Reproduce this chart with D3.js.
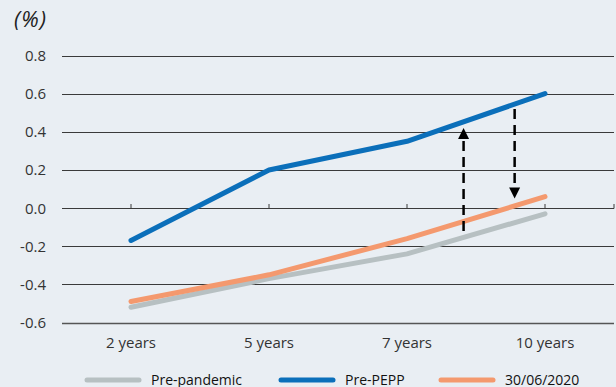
<!DOCTYPE html>
<html lang="en">

<head>
  <meta charset="UTF-8">
  <title>Yield curve</title>
  <script src="https://cdn.jsdelivr.net/npm/d3@7"></script>
  <style>
    html,
    body {
      margin: 0;
      padding: 0;
      background: #e9eef3;
    }

    svg {
      display: block;
      font-family: "Open Sans", sans-serif;
    }

    .ticklabel {
      fill: #333333;
      font-size: 15px;
    }

    .legendText {
      fill: #111111;
      font-size: 14px;
    }

    .unit {
      fill: #222222;
      font-size: 22px;
      font-style: italic;
      letter-spacing: 1px;
    }
  </style>
</head>

<body>
  <div class="chart"></div>

  <script type="text/javascript">
    // data
    const categories = ['2 years', '5 years', '7 years', '10 years'];
    const prePandemic = [-0.52, -0.37, -0.24, -0.03];
    const prePEPP = [-0.17, 0.2, 0.35, 0.6];
    const lastDate = [-0.49, -0.35, -0.16, 0.06];
    const yTicks = [-0.6, -0.4, -0.2, 0.0, 0.2, 0.4, 0.6, 0.8];
    const seriesNames = ['Pre-pandemic', 'Pre-PEPP', '30/06/2020'];
    const seriesColors = ['#b7c0c2', '#0b6fba', '#f4996e'];
    // arrows: position as category index, from value, to value (tip)
    const arrowPos = [2.41, 2.78];
    const arrowFrom = [-0.12, 0.52];
    const arrowTo = [0.42, 0.05];

    const width = 616;
    const height = 387;

    const svg = d3
      .select('.chart')
      .append('svg')
      .attr('width', width)
      .attr('height', height);

    // index scale, half a step of padding on each side
    const x = d3.scaleLinear()
      .domain([-0.5, categories.length - 0.5])
      .range([62, 614]);

    const y = d3.scaleLinear()
      .domain([-0.6, 0.8])
      .range([322.5, 55.5]);

    //gridlines
    svg.selectAll('.grid')
      .data(yTicks)
      .enter()
      .append('line')
      .attr('class', 'grid')
      .attr('x1', x(-0.5))
      .attr('x2', x(categories.length - 0.5))
      .attr('y1', d => Math.round(y(d)) + 0.5)
      .attr('y2', d => Math.round(y(d)) + 0.5)
      .attr('stroke', d => d === -0.6 ? '#555555' : '#3a3a3a')
      .attr('stroke-width', d => d === -0.6 ? 1.6 : 1);

    // y tick labels
    svg.selectAll('.ylab')
      .data(yTicks)
      .enter()
      .append('text')
      .attr('class', 'ticklabel')
      .attr('x', 46)
      .attr('y', d => y(d) + 5.5)
      .style('text-anchor', 'end')
      .text(d => d3.format('.1f')(d).replace('\u2212', '-'));

    // small ticks on the zero line
    const tickIdx = d3.range(categories.length).concat([categories.length - 0.5]);
    svg.selectAll('.xtick')
      .data(tickIdx)
      .enter()
      .append('line')
      .attr('class', 'xtick')
      .attr('x1', d => x(d))
      .attr('x2', d => x(d))
      .attr('y1', Math.round(y(0)) + 0.5)
      .attr('y2', Math.round(y(0)) - 4)
      .attr('stroke', '#3a3a3a')
      .attr('stroke-width', 1);

    // category labels
    svg.selectAll('.xlab')
      .data(categories)
      .enter()
      .append('text')
      .attr('class', 'ticklabel')
      .attr('x', (d, i) => x(i))
      .attr('y', 347.5)
      .style('text-anchor', 'middle')
      .text(d => d);

    svg.append('text')
      .attr('class', 'unit')
      .attr('x', 14)
      .attr('y', 27)
      .text('(%)');

    // lines
    const line = d3.line()
      .x((d, i) => x(i))
      .y(d => y(d));

    const allSeries = [prePandemic, prePEPP, lastDate];
    svg.selectAll('.series')
      .data(allSeries)
      .enter()
      .append('path')
      .attr('class', 'series')
      .attr('d', d => line(d))
      .attr('fill', 'none')
      .attr('stroke', (d, i) => seriesColors[i])
      .attr('stroke-width', 5)
      .attr('stroke-linecap', 'round')
      .attr('stroke-linejoin', 'round');

    // dashed arrows
    arrowPos.forEach(function(p, i) {
      const ax = x(p);
      const y0 = y(arrowFrom[i]);
      const y1 = y(arrowTo[i]);
      const dir = y1 < y0 ? 1 : -1; // 1 = pointing up
      const headLen = 11;
      svg.append('line')
        .attr('x1', ax)
        .attr('x2', ax)
        .attr('y1', y0)
        .attr('y2', y1 + dir * headLen)
        .attr('stroke', '#000000')
        .attr('stroke-width', 2.5)
        .attr('stroke-dasharray', '10,6');
      svg.append('path')
        .attr('d', `M${ax},${y1} L${ax - 5.5},${y1 + dir * headLen} L${ax + 5.5},${y1 + dir * headLen} Z`)
        .attr('fill', '#000000');
    });

    // legend
    const legendX = [85, 279, 439];
    const legend = svg.selectAll('.legend')
      .data(seriesNames)
      .enter()
      .append('g')
      .attr('class', 'legend')
      .attr('transform', (d, i) => `translate(${legendX[i]}, 380)`);

    legend.append('line')
      .attr('x1', 2)
      .attr('x2', 54)
      .attr('y1', 0)
      .attr('y2', 0)
      .attr('stroke', (d, i) => seriesColors[i])
      .attr('stroke-width', 5)
      .attr('stroke-linecap', 'round');

    legend.append('text')
      .attr('class', 'legendText')
      .attr('x', 66)
      .attr('y', 4.5)
      .text(d => d);
  </script>
</body>

</html>
